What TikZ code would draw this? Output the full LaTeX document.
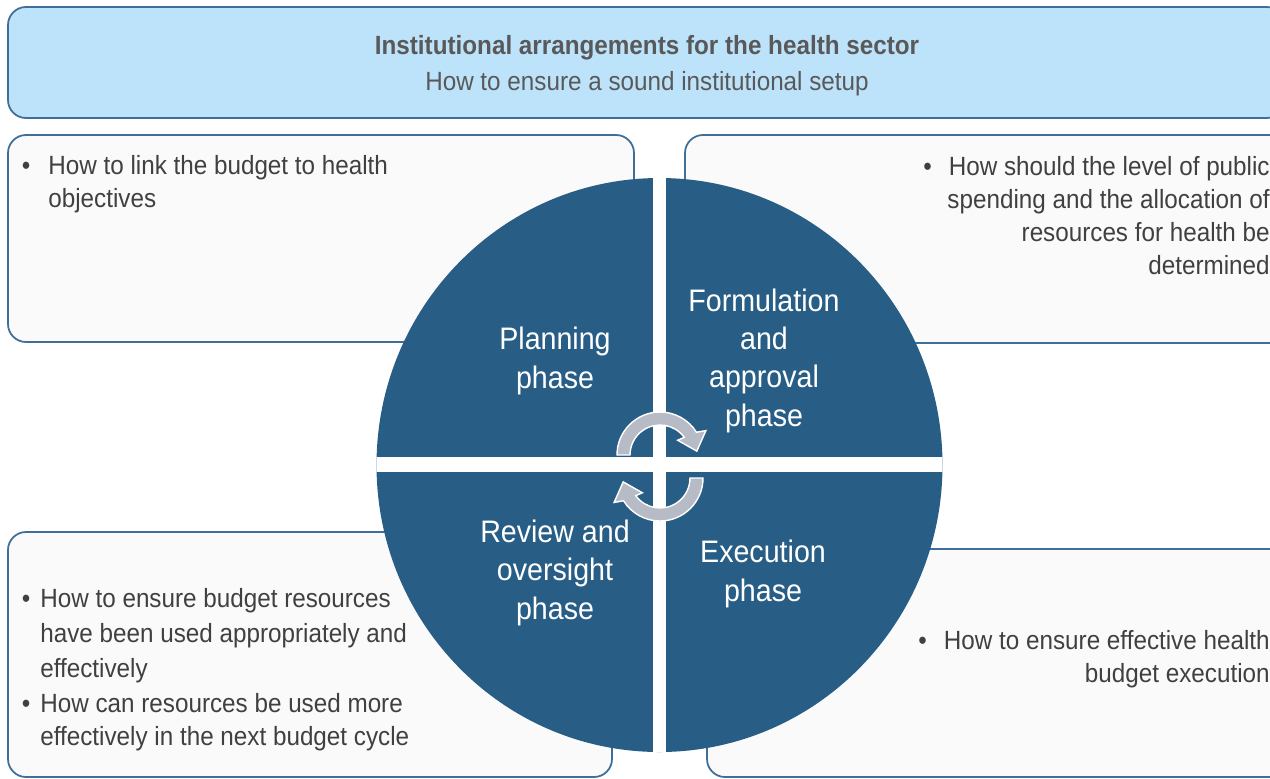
\documentclass[tikz,border=0pt]{standalone}
\usepackage{fontspec}
\setmainfont{Liberation Sans}[FakeStretch=0.92]
\usepackage{xcolor}
\usepackage{tikz}

\definecolor{phaseblue}{HTML}{285E86}
\definecolor{bannerblue}{HTML}{BDE3FA}
\definecolor{boxline}{HTML}{3F6F98}
\definecolor{boxfill}{HTML}{FAFAFA}
\definecolor{textgray}{HTML}{404040}
\definecolor{titlegray}{HTML}{595959}
\definecolor{arrowgray}{HTML}{B6BBC5}

\tikzset{
  pics/cyclearrow/.style={code={
    \draw[fill=arrowgray, draw=white, line width=0.8pt]
      (180:43) arc[start angle=180, end angle=328, radius=43] -- (332:52) -- (354:37)
      -- (320:23) -- (324:30) arc[start angle=324, end angle=180, radius=30] -- cycle;
  }}
}

\begin{document}
\begin{tikzpicture}[x=0.02cm, y=-0.02cm,
  infobox/.style={draw=boxline, fill=boxfill, line width=1pt, rounded corners=0.36cm},
  infotext/.style={inner sep=0pt, text=textgray, font=\fontsize{15}{18.7}\selectfont},
  phasetext/.style={inner sep=0pt, text=white, align=center, anchor=base, font=\fontsize{17.7}{21.8}\selectfont}]
  \useasboundingbox (0,0) rectangle (1270,778);
  \clip (0,0) rectangle (1270,778);

  % Banner
  \draw[infobox, fill=bannerblue] (8,7) rectangle (1285,118);
  \node[inner sep=0pt, text=titlegray, align=center, anchor=base, font=\fontsize{15}{20.4}\selectfont] (title) at (647,90)
    {\textbf{Institutional arrangements for the health sector}\\How to ensure a sound institutional setup};

  % Question boxes
  \draw[infobox] (8,135) rectangle (634,342);
  \draw[infobox] (685,135) rectangle (1290,343);
  \draw[infobox] (8,532) rectangle (612,777);
  \draw[infobox] (707,549) rectangle (1290,777);

  \node[infotext, anchor=base west, align=left] (plantext) at (48,207)
    {\llap{\textbullet\hspace{0.36cm}}How to link the budget to health\\objectives};
  \node[infotext, anchor=base east, align=right] (formtext) at (1270,274)
    {\textbullet\hspace{0.34cm}How should the level of public\\spending and the allocation of\\resources for health be\\determined};
  \node[infotext, anchor=base west, align=left, font=\fontsize{15}{19.8}\selectfont] (reviewtext) at (40,677)
    {\llap{\textbullet\hspace{0.2cm}}How to ensure budget resources\\have been used appropriately and\\effectively};
  \node[infotext, anchor=base west, align=left] (nexttext) at (40,745)
    {\llap{\textbullet\hspace{0.2cm}}How can resources be used more\\effectively in the next budget cycle};
  \node[infotext, anchor=base east, align=right] (exectext) at (1270,682)
    {\textbullet\hspace{0.34cm}How to ensure effective health\\budget execution};

  % Budget cycle
  \begin{scope}
    \clip (659.5,465) ellipse[x radius=283, y radius=287];
    \fill[phaseblue] (370,170) rectangle (950,760);
    \fill[white] (653,170) rectangle (666,760);
    \fill[white] (370,457) rectangle (950,472);
  \end{scope}

  \node[phasetext] (planning) at (555,388) {Planning\\phase};
  \node[phasetext] (formulation) at (764,426) {Formulation\\and\\approval\\phase};
  \node[phasetext] (review) at (555,619) {Review and\\oversight\\phase};
  \node[phasetext] (execution) at (763,601) {Execution\\phase};

  \pic at (660,455) {cyclearrow};
  \pic[rotate=180] at (660,478) {cyclearrow};
\end{tikzpicture}
\end{document}
